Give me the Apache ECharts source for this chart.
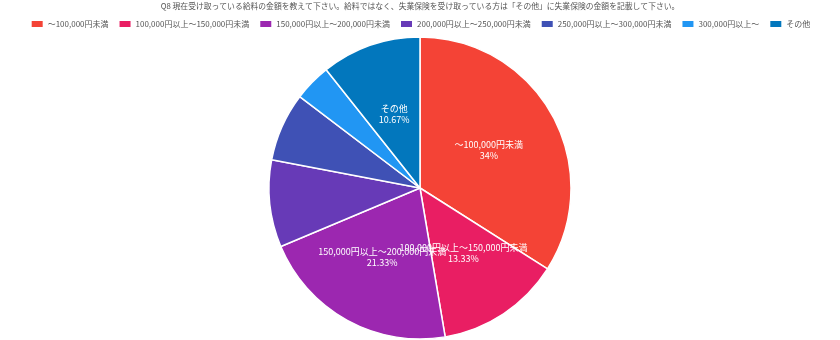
<!DOCTYPE html>
<html>
<head>
<meta charset="utf-8">
<script src="https://cdn.jsdelivr.net/npm/echarts@6/dist/echarts.min.js"></script>
<style>html,body{margin:0;padding:0;background:#fff}#c{width:840px;height:340px}</style>
</head>
<body>
<div id="c"></div>
<script>
const titleText = 'Q8 現在受け取っている給料の金額を教えて下さい。給料ではなく、失業保険を受け取っている方は「その他」に失業保険の金額を記載して下さい。';
const categories = ['～100,000円未満','100,000円以上～150,000円未満','150,000円以上～200,000円未満','200,000円以上～250,000円未満','250,000円以上～300,000円未満','300,000円以上～','その他'];
const counts = [51, 20, 32, 14, 11, 6, 16];
const showLabel = [true, true, true, false, false, false, true];
const colors = ['#F44336','#E91E63','#9C27B0','#673AB7','#3F51B5','#2196F3','#0277BD'];
const FONT = '"Noto Sans CJK JP", "Noto Sans", sans-serif';
const total = counts.reduce((a,b)=>a+b,0);
const chart = echarts.init(document.getElementById('c'));
chart.setOption({
  animation: false,
  color: colors,
  title: { text: titleText, left: 'center', top: -3, textStyle: { fontSize: 7.8, fontWeight: 'normal', color: '#555', fontFamily: FONT } },
  legend: { top: 14, left: 'center', itemWidth: 13, itemHeight: 8, itemGap: 9, icon: 'rect',
    textStyle: { fontSize: 8, color: '#555', fontFamily: FONT, padding: [0,0,0,-1] } },
  series: [{
    type: 'pie', center: [420, 188], radius: [0, 151], startAngle: 90, clockwise: true,
    avoidLabelOverlap: false,
    labelLayout: { hideOverlap: false },
    itemStyle: { borderColor: '#fff', borderWidth: 1.5 },
    label: { show: true, position: 'inside', color: '#fff', fontSize: 9, fontFamily: FONT, lineHeight: 11, textBorderWidth: 0,
      formatter: p => p.name + '\n' + (Math.round(p.value / total * 10000) / 100) + '%' },
    labelLine: { show: false },
    emphasis: { disabled: true },
    data: categories.map((n, i) => ({ name: n, value: counts[i], label: { show: showLabel[i] } }))
  }]
});
</script>
</body>
</html>
